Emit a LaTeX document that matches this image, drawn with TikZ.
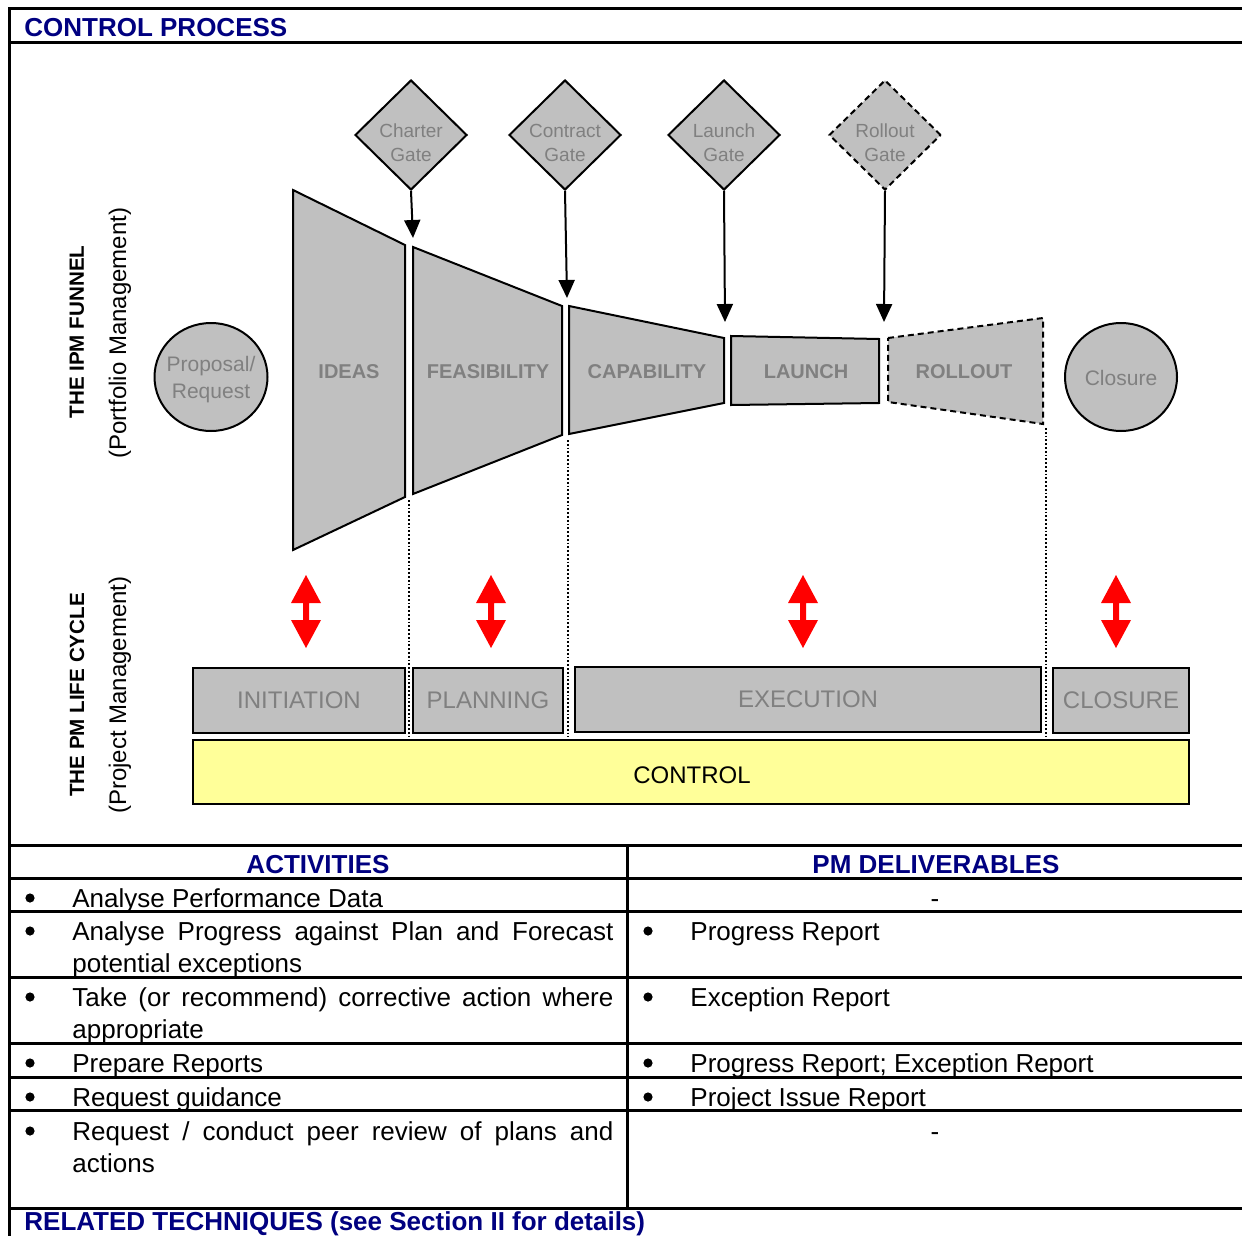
\documentclass[tikz,border=0pt]{standalone}
\usepackage{fontspec}
\setmainfont{Liberation Sans}
\usetikzlibrary{shapes.geometric,arrows.meta}
\hyphenpenalty=10000
\exhyphenpenalty=10000
\definecolor{fillgray}{HTML}{C0C0C0}
\definecolor{labelgray}{HTML}{808080}
\definecolor{headblue}{HTML}{000080}
\definecolor{controlyellow}{HTML}{FFFF99}
\definecolor{linkred}{HTML}{FF0000}
\begin{document}
\begin{tikzpicture}[x=0.5pt,y=-0.5pt,
  rule/.style={line width=1.5pt},
  stage/.style={draw=black, line width=1pt, fill=fillgray, line join=miter},
  stagetext/.style={text=labelgray, font=\bfseries\fontsize{10pt}{12pt}\selectfont, inner sep=0pt},
  gate/.style={diamond, draw=black, line width=1pt, fill=fillgray, minimum width=56pt, minimum height=55pt, inner sep=0pt},
  gatetext/.style={text=labelgray, font=\fontsize{9.5pt}{12pt}\selectfont, align=center, inner sep=0pt},
  gatearrow/.style={line width=1pt, -{Triangle[width=8pt,length=9pt]}},
  endpoint/.style={ellipse, draw=black, line width=1pt, fill=fillgray, inner sep=0pt, minimum height=54pt},
  endtext/.style={text=labelgray, font=\fontsize{10.5pt}{13.5pt}\selectfont, align=center, inner sep=0pt},
  guide/.style={densely dotted, line width=0.9pt},
  phase/.style={rectangle, draw=black, line width=1pt, fill=fillgray, minimum height=32.5pt, inner sep=0pt, text=labelgray, font=\fontsize{12pt}{14pt}\selectfont},
  sidebold/.style={rotate=90, inner sep=0pt, font=\bfseries\fontsize{10.3pt}{12pt}\selectfont},
  sideplain/.style={rotate=90, inner sep=0pt, font=\fontsize{12pt}{14pt}\selectfont},
  headtext/.style={text=headblue, inner sep=0pt, font=\bfseries\fontsize{13pt}{16pt}\selectfont},
  bul/.style={circle, fill=black, inner sep=0pt, minimum size=4.6pt},
  dashmark/.style={anchor=base, inner sep=0pt, font=\fontsize{13pt}{16pt}\selectfont},
  act/.style={anchor=base west, inner sep=0pt, text width=270.5pt, align=justify, font=\fontsize{13pt}{16pt}\selectfont},
  deliv/.style={anchor=base west, inner sep=0pt, font=\fontsize{13pt}{16pt}\selectfont},
  link/.pic={\fill[linkred] (0,-36.5) -- (15,-8.5) -- (3,-8.5) -- (3,8.5) -- (15,8.5) -- (0,36.5)
     -- (-15,8.5) -- (-3,8.5) -- (-3,-8.5) -- (-15,-8.5) -- cycle;}
]
\useasboundingbox (0,0) rectangle (1242,1236);

% outer frame and title band
\draw[rule] (9,1240) -- (9,9) -- (1250,9);
\draw[rule] (9,43) -- (1250,43);
\node[headtext, anchor=base west] (title) at (24,37) {CONTROL PROCESS};

% side captions
\node[sidebold] (funnelcap) at (77,332) {THE IPM FUNNEL};
\node[sideplain] (funnelsub) at (120,333) {(Portfolio Management)};
\node[sidebold] (cyclecap) at (77,695) {THE PM LIFE CYCLE};
\node[sideplain] (cyclesub) at (120,695) {(Project Management)};

% funnel stages
\draw[stage] (293,190) -- (405,245) -- (405,497) -- (293,550) -- cycle;
\draw[stage] (413,247) -- (562,306) -- (562,435) -- (413,494) -- cycle;
\draw[stage] (569,306) -- (724,338) -- (724,403) -- (569,434) -- cycle;
\draw[stage] (731,336) -- (879,339) -- (879,403) -- (731,405) -- cycle;
\draw[stage, dash pattern=on 3pt off 2pt] (888,338) -- (1043,318) -- (1043,424) -- (888,402) -- cycle;
\node[stagetext] (ideas) at (349,372) {IDEAS};
\node[stagetext] (feas) at (488,372) {FEASIBILITY};
\node[stagetext] (capab) at (647,372) {CAPABILITY};
\node[stagetext] (launch) at (806,372) {LAUNCH};
\node[stagetext] (rollout) at (964,372) {ROLLOUT};

% start and end of the funnel
\node[endpoint, minimum width=56.5pt] (proposal) at (211,377) {};
\node[endtext] (proposaltext) at (211,380) {Proposal/\\Request};
\node[endpoint, minimum width=56pt] (closure) at (1121,377) {};
\node[endtext] (closuretext) at (1121,378) {Closure};

% gates
\node[gate] (gcharter) at (411,135) {};
\node[gatetext] (tcharter) at (411,143) {Charter\\Gate};
\node[gate] (gcontract) at (565,135) {};
\node[gatetext] (tcontract) at (565,143) {Contract\\Gate};
\node[gate] (glaunch) at (724,135) {};
\node[gatetext] (tlaunch) at (724,143) {Launch\\Gate};
\node[gate, dash pattern=on 3pt off 2pt] (grollout) at (885,135) {};
\node[gatetext] (trollout) at (885,143) {Rollout\\Gate};

\coordinate (acharter) at (413,238);
\coordinate (acontract) at (567,298);
\coordinate (alaunch) at (725,322);
\coordinate (arollout) at (884,322);
\draw[gatearrow] (gcharter.south) -- (acharter);
\draw[gatearrow] (gcontract.south) -- (acontract);
\draw[gatearrow] (glaunch.south) -- (alaunch);
\draw[gatearrow] (grollout.south) -- (arollout);

% stage boundaries carried down to the life cycle
\coordinate (d1a) at (409,500); \coordinate (d1b) at (409,737);
\coordinate (d2a) at (568,440); \coordinate (d2b) at (568,737);
\coordinate (d3a) at (1046,428); \coordinate (d3b) at (1046,737);
\draw[guide] (d1a) -- (d1b);
\draw[guide] (d2a) -- (d2b);
\draw[guide] (d3a) -- (d3b);

% links between funnel and life cycle
\pic at (306,611.5) {link};
\pic at (491,611.5) {link};
\pic at (803,611.5) {link};
\pic at (1116,611.5) {link};

% life cycle phases
\node[phase, minimum width=106pt] (initiation) at (299,700) {INITIATION};
\node[phase, minimum width=75pt] (planning) at (488,700) {PLANNING};
\node[phase, minimum width=233pt] (execution) at (808,699.5) {EXECUTION};
\node[phase, minimum width=68pt] (closurephase) at (1121,700) {CLOSURE};
\node[rectangle, draw=black, line width=1pt, fill=controlyellow, minimum width=498pt, minimum height=32pt,
      inner sep=0pt] (control) at (691,772) {};
\node[inner sep=0pt, font=\fontsize{12pt}{14pt}\selectfont] (controltext) at (692,775) {CONTROL};

% table of activities and deliverables
\draw[rule] (9,845) -- (1250,845);
\foreach \yy in {878,911,977,1043,1077,1110,1208}
  \draw[rule] (9,\yy) -- (1250,\yy);
\draw[rule] (627,845) -- (627,1208);

\node[headtext, anchor=base] (hact) at (318,873) {ACTIVITIES};
\node[headtext, anchor=base] (hdel) at (936,873) {PM DELIVERABLES};

\node[bul] (b1) at (30,898) {};
\node[act] (act1) at (72,907) {Analyse Performance Data};
\node[bul] (b2) at (30,931) {};
\node[act] (act2) at (72,940) {Analyse Progress against Plan and Forecast potential exceptions};
\node[bul] (b3) at (30,997) {};
\node[act] (act3) at (72,1006) {Take (or recommend) corrective action where appropriate};
\node[bul] (b4) at (30,1063) {};
\node[act] (act4) at (72,1072) {Prepare Reports};
\node[bul] (b5) at (30,1097) {};
\node[act] (act5) at (72,1106) {Request guidance};
\node[bul] (b6) at (30,1131) {};
\node[act] (act6) at (72,1140) {Request / conduct peer review of plans and actions};

\node[dashmark] (d1) at (935,907) {-};
\node[bul] (c2) at (648,931) {};
\node[deliv] (del2) at (690,940) {Progress Report};
\node[bul] (c3) at (648,997) {};
\node[deliv] (del3) at (690,1006) {Exception Report};
\node[bul] (c4) at (648,1063) {};
\node[deliv] (del4) at (690,1072) {Progress Report; Exception Report};
\node[bul] (c5) at (648,1097) {};
\node[deliv] (del5) at (690,1106) {Project Issue Report};
\node[dashmark] (d6) at (935,1140) {-};

\node[headtext, anchor=base west] (related) at (24,1230) {RELATED TECHNIQUES (see Section II for details)};
\end{tikzpicture}
\end{document}
